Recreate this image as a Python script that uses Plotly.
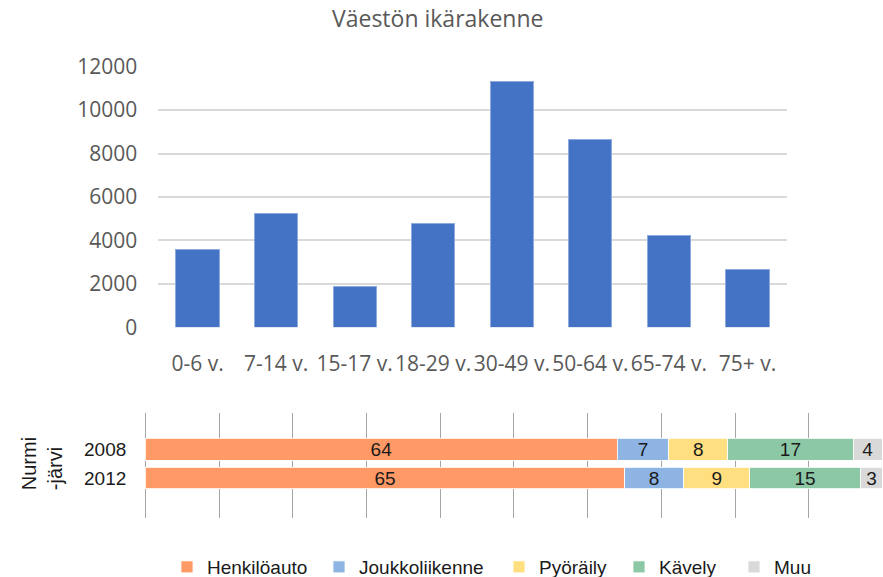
import plotly.graph_objects as go

# Top chart data
age_groups = ["0-6 v.", "7-14 v.", "15-17 v.", "18-29 v.", "30-49 v.", "50-64 v.", "65-74 v.", "75+ v."]
population = [3600, 5250, 1900, 4800, 11330, 8670, 4250, 2640]
y_ticks = [0, 2000, 4000, 6000, 8000, 10000, 12000]

# Bottom chart data
years = ["2008", "2012"]
modes = ["Henkilöauto", "Joukkoliikenne", "Pyöräily", "Kävely", "Muu"]
henkiloauto = [64, 65]
joukkoliikenne = [7, 8]
pyoraily = [8, 9]
kavely = [17, 15]
muu = [4, 3]
mode_values = [henkiloauto, joukkoliikenne, pyoraily, kavely, muu]
mode_colors = ["#FF9966", "#8DB4E2", "#FFDF80", "#8CC8A5", "#D9D9D9"]

W, H = 883, 577

def px_x(p):
    return p / W

def px_y(p):
    return (H - p) / H

fig = go.Figure()

fig.add_trace(go.Bar(
    x=age_groups, y=population, width=0.55,
    marker=dict(color="#4472C4", line=dict(color="#8FAADC", width=1)),
    showlegend=False, xaxis="x", yaxis="y", hoverinfo="x+y",
))

legend_ids = ["legend", "legend2", "legend3", "legend4", "legend5"]
for name, vals, col, lg in zip(modes, mode_values, mode_colors, legend_ids):
    fig.add_trace(go.Bar(
        y=years, x=vals, name=name, orientation="h", width=0.75,
        marker=dict(color=col, line=dict(color="white", width=0.8)),
        text=[str(v) for v in vals], textposition="inside", textangle=0,
        insidetextanchor="middle", constraintext="none",
        textfont=dict(family="Liberation Sans, Arial", size=19, color="#1a1a1a"),
        xaxis="x2", yaxis="y2", legend=lg,
    ))

# category center positions for bottom chart
unit = 28.8
top_px, bot_px, c0 = 412.7, 518.0, 449.2
r_top = -(c0 - top_px) / unit
r_bot = (bot_px - c0) / unit

# bottom x: 0 -> 145.5 px, 100 -> 882.5 px
ppu = (882.5 - 145.5) / 100
x2_lo = -0.3

legend_text_starts = [207, 359, 539, 659, 774]
legend_font = dict(family="Liberation Sans, Arial", size=19, color="#1a1a1a")
legend_layouts = {}
for lg, ts in zip(legend_ids, legend_text_starts):
    legend_layouts[lg] = dict(orientation="h", x=px_x(ts - 40), xanchor="left",
                              y=px_y(567), yanchor="middle", font=legend_font,
                              itemwidth=30, bgcolor="rgba(0,0,0,0)")

fig.update_layout(
    width=W, height=H,
    margin=dict(l=0, r=0, t=0, b=0, autoexpand=False),
    plot_bgcolor="white", paper_bgcolor="white",
    barmode="stack",
    xaxis=dict(domain=[px_x(158.3), px_x(786.7)], anchor="y", automargin=False,
               showgrid=False, showline=False, zeroline=False,
               tickfont=dict(family="Open Sans", size=21, color="#595959"),
               ticklabelstandoff=22),
    yaxis=dict(domain=[px_y(327.3), px_y(66.7)], anchor="x", automargin=False,
               range=[0, 12000], tickvals=y_ticks,
               ticktext=[str(v) for v in y_ticks],
               showgrid=True, gridcolor="#D9D9D9", gridwidth=1.5,
               zeroline=False, showline=False,
               tickfont=dict(family="Open Sans", size=21, color="#595959"),
               ticklabelstandoff=20),
    xaxis2=dict(domain=[px_x(145.5 + x2_lo * ppu), px_x(882.5)], anchor="y2", automargin=False,
                range=[x2_lo, 100], dtick=10, tick0=0,
                showgrid=True, gridcolor="#A6A6A6", gridwidth=1.2,
                showticklabels=False, zeroline=False, showline=False),
    yaxis2=dict(domain=[px_y(bot_px), px_y(top_px)], anchor="x2", automargin=False,
                type="category", categoryorder="array", categoryarray=years,
                range=[r_bot, r_top],
                showgrid=False, zeroline=False, showline=False,
                tickfont=dict(family="Liberation Sans, Arial", size=19, color="#1a1a1a"),
                ticklabelstandoff=16),
    annotations=[
        dict(text="Väestön ikärakenne", x=px_x(437), y=px_y(18), xref="paper", yref="paper",
             showarrow=False, xanchor="center", yanchor="middle",
             font=dict(family="Open Sans", size=23, color="#595959")),
        dict(text="Nurmi<br>-järvi", x=px_x(41.7), y=px_y(463.5), xref="paper", yref="paper",
             showarrow=False, xanchor="center", yanchor="middle", textangle=-90, align="left",
             font=dict(family="Liberation Sans, Arial", size=20, color="#1a1a1a")),
    ],
    **legend_layouts,
)

fig.write_html("out.html", config={"displayModeBar": False},
               post_script="document.body.style.margin='0';")
